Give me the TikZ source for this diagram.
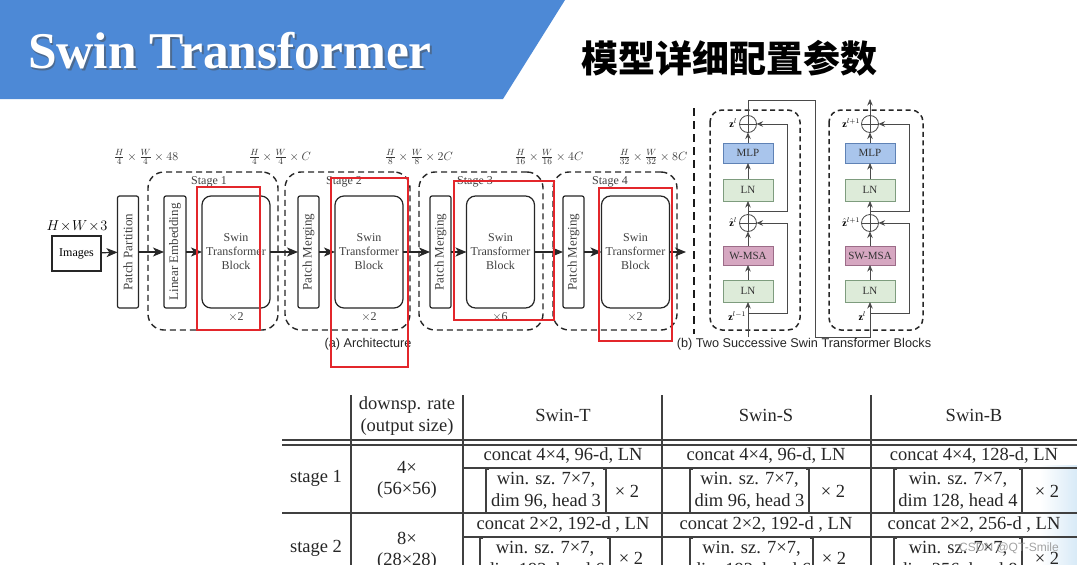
\documentclass[tikz,border=0pt]{standalone}
\usepackage{fontspec}
\setmainfont{Liberation Serif}
\newfontfamily\cjk{Noto Sans CJK SC}
\newfontfamily\arialf{Liberation Sans}
\usetikzlibrary{arrows.meta,calc}
\definecolor{titleblue}{HTML}{4D89D6}
\definecolor{mlpfill}{HTML}{A9C5EC}
\definecolor{mlpdraw}{HTML}{5F82B5}
\definecolor{lnfill}{HTML}{DDEBD9}
\definecolor{lndraw}{HTML}{7E9C7E}
\definecolor{msafill}{HTML}{D6A7C1}
\definecolor{msadraw}{HTML}{9C6C88}
\definecolor{annred}{HTML}{E3262B}
\definecolor{lgray}{HTML}{4A4A4A}
\definecolor{pale}{HTML}{D8EAF7}
\begin{document}
\begin{tikzpicture}[x=1pt,y=-1pt,
  every node/.style={inner sep=0pt,outer sep=0pt},
  archfont/.style={font=\fontsize{12}{14}\selectfont},
  vbox/.style={draw=black!85,line width=1.2pt,rounded corners=2pt,minimum width=21pt,minimum height=112pt},
  stbbox/.style={draw=black!85,line width=1.2pt,rounded corners=9pt,minimum width=68pt,minimum height=112pt,align=center,archfont,text=black!75},
  stagebox/.style={draw=black!85,line width=1.4pt,dash pattern=on 6pt off 4pt,rounded corners=16pt,minimum width=124pt,minimum height=158pt},
  arr/.style={-{Stealth[length=11pt,width=9pt,inset=3pt]},line width=1.2pt,draw=black!85},
  redbox/.style={draw=annred,line width=2pt},
  blk/.style={line width=0.8pt,minimum width=50pt,font=\fontsize{11}{13}\selectfont,text=black!80},
  addc/.style={circle,draw=lgray,line width=0.8pt,minimum size=17pt},
  rarr/.style={-{Stealth[length=6.5pt,width=5.5pt]},line width=0.8pt,draw=lgray},
  rline/.style={line width=0.8pt,draw=lgray},
  bdash/.style={dash pattern=on 5pt off 3.5pt,line width=1.5pt,draw=black!85,rounded corners=12pt},
  zlab/.style={font=\fontsize{10}{12}\selectfont,anchor=east},
  tfont/.style={font=\fontsize{18.5}{22}\selectfont,text=black!85},
  tline/.style={line width=1.1pt,draw=black!75},
  brk/.style={line width=1.1pt,draw=black!75},
  capf/.style={font=\arialf\fontsize{12.7}{14}\selectfont,text=black!85}
]
\useasboundingbox (0,0) rectangle (1077,565);
\clip (0,0) rectangle (1077,565);
\fill[white] (0,0) rectangle (1077,565);
\shade[left color=white,right color=pale] (1040,465) rectangle (1077,565);

% ---------- title ----------
\fill[titleblue] (0,0) -- (565,0) -- (503,99) -- (0,99) -- cycle;
\node[anchor=base west,font=\bfseries\fontsize{51.5}{60}\selectfont,text=black!70,opacity=0.5] (titlesh) at (30,70) {Swin Transformer};
\node[anchor=base west,font=\bfseries\fontsize{51.5}{60}\selectfont,text=white] (title) at (28,68) {Swin Transformer};
\node[font=\cjk\bfseries\fontsize{37}{40}\selectfont] (cntitle) at (729,58) {模型详细配置参数};

% ---------- architecture ----------
\node[draw=black!85,line width=1.2pt,minimum width=49pt,minimum height=35pt,archfont] (img) at (76.5,253.5) {Images};
\node[font=\fontsize{14}{16}\selectfont] (hw3) at (77,226) {$H\!\times\! W\!\times\! 3$};

\node[stagebox] (s1) at (213,251) [minimum width=130pt] {};
\node[stagebox] (s2) at (347.5,251) [minimum width=125pt] {};
\node[stagebox] (s3) at (481,251) {};
\node[stagebox] (s4) at (615,251) {};

\node[vbox] (pp) at (128,252) {};
\node[rotate=90,font=\fontsize{13}{15}\selectfont,text=black!75] (pptx) at (pp.center) {Patch Partition};
\node[vbox,minimum width=22pt] (le) at (175,252) {};
\node[rotate=90,font=\fontsize{13}{15}\selectfont,text=black!75] (letx) at (le.center) {Linear Embedding};
\node[stbbox] (b1) at (236,252) {Swin\\Transformer\\Block};
\node[vbox] (pm2) at (308.5,252) {};
\node[rotate=90,font=\fontsize{13}{15}\selectfont,text=black!75] (pm2tx) at (pm2.center) {Patch Merging};
\node[stbbox] (b2) at (369,252) {Swin\\Transformer\\Block};
\node[vbox] (pm3) at (440.5,252) {};
\node[rotate=90,font=\fontsize{13}{15}\selectfont,text=black!75] (pm3tx) at (pm3.center) {Patch Merging};
\node[stbbox] (b3) at (500.5,252) {Swin\\Transformer\\Block};
\node[vbox] (pm4) at (573.5,252) {};
\node[rotate=90,font=\fontsize{13}{15}\selectfont,text=black!75] (pm4tx) at (pm4.center) {Patch Merging};
\node[stbbox] (b4) at (635.5,252) {Swin\\Transformer\\Block};
\coordinate (out) at (686,252);

\node[archfont,text=black!75] (st1) at (209,182) {Stage 1};
\node[archfont,text=black!75] (st2) at (344,182) {Stage 2};
\node[archfont,text=black!75] (st3) at (475,182) {Stage 3};
\node[archfont,text=black!75] (st4) at (610,182) {Stage 4};
\node[archfont,text=black!75] (x1) at (236,317) {$\times$2};
\node[archfont,text=black!75] (x2) at (369,317) {$\times$2};
\node[archfont,text=black!75] (x3) at (500,317) {$\times$6};
\node[archfont,text=black!75] (x4) at (635,317) {$\times$2};

\node[font=\fontsize{12.5}{14}\selectfont,text=black!80] (d0) at (146,157) {$\frac{H}{4}\times\frac{W}{4}\times 48$};
\node[font=\fontsize{12.5}{14}\selectfont,text=black!80] (d1) at (280,157) {$\frac{H}{4}\times\frac{W}{4}\times C$};
\node[font=\fontsize{12.5}{14}\selectfont,text=black!80] (d2) at (419,157) {$\frac{H}{8}\times\frac{W}{8}\times 2C$};
\node[font=\fontsize{12.5}{14}\selectfont,text=black!80] (d3) at (549,157) {$\frac{H}{16}\times\frac{W}{16}\times 4C$};
\node[font=\fontsize{12.5}{14}\selectfont,text=black!80] (d4) at (653,157) {$\frac{H}{32}\times\frac{W}{32}\times 8C$};

\draw[arr] (img) -- (pp);
\draw[arr] (pp) -- (le);
\draw[arr] (le) -- (b1);
\draw[arr] (b1) -- (pm2);
\draw[arr] (pm2) -- (b2);
\draw[arr] (b2) -- (pm3);
\draw[arr] (pm3) -- (b3);
\draw[arr] (b3) -- (pm4);
\draw[arr] (pm4) -- (b4);
\draw[arr] (b4) -- (out);

\draw[dash pattern=on 8pt off 5pt,line width=2.6pt,draw=black!90] (694,108) -- (694,334);

\node[capf] (capa) at (368,344) {(a) Architecture};
\node[capf] (capb) at (804,344) {(b) Two Successive Swin Transformer Blocks};

% ---------- two successive blocks ----------
\draw[bdash] (710,110) rectangle (800,330);
\draw[bdash] (829,110) rectangle (923,330);

\node[addc] (a1L) at (748,124) {};
\node[blk,draw=mlpdraw,fill=mlpfill,minimum height=20pt] (mlpL) at (748,153) {MLP};
\node[blk,draw=lndraw,fill=lnfill,minimum height=22pt] (ln2L) at (748,190) {LN};
\node[addc] (a2L) at (748,223) {};
\node[blk,draw=msadraw,fill=msafill,minimum height=19pt] (msaL) at (748,255.5) {W-MSA};
\node[blk,draw=lndraw,fill=lnfill,minimum height=22pt] (ln1L) at (748,291) {LN};

\node[addc] (a1R) at (870,124) {};
\node[blk,draw=mlpdraw,fill=mlpfill,minimum height=20pt] (mlpR) at (870,153) {MLP};
\node[blk,draw=lndraw,fill=lnfill,minimum height=22pt] (ln2R) at (870,190) {LN};
\node[addc] (a2R) at (870,223) {};
\node[blk,draw=msadraw,fill=msafill,minimum height=19pt] (msaR) at (870,255.5) {SW-MSA};
\node[blk,draw=lndraw,fill=lnfill,minimum height=22pt] (ln1R) at (870,291) {LN};

\foreach \n in {a1L,a2L,a1R,a2R}{
  \draw[rline] (\n.north) -- (\n.south) (\n.west) -- (\n.east);
}

\coordinate (inL) at (748,337);
\coordinate (rL1) at (748,313);
\coordinate (rL1c) at (787,313);
\coordinate (rL2) at (748,211);
\coordinate (rL2c) at (787,211);
\coordinate (rR1) at (870,313);
\coordinate (rR1c) at (909,313);
\coordinate (rR2) at (870,211);
\coordinate (rR2c) at (909,211);
\coordinate (t1) at (748,100);
\coordinate (t2) at (815,100);
\coordinate (t3) at (815,337);
\coordinate (t4) at (870,337);
\coordinate (outR) at (870,99);

\draw[rarr] (inL) -- (ln1L);
\draw[rarr] (ln1L) -- (msaL);
\draw[rarr] (msaL) -- (a2L);
\draw[rarr] (a2L) -- (ln2L);
\draw[rarr] (ln2L) -- (mlpL);
\draw[rarr] (mlpL) -- (a1L);
\draw[rarr] (rL1) -- (rL1c) |- (a2L);
\draw[rarr] (rL2) -- (rL2c) |- (a1L);

\draw[rarr] (a1L) -- (t1) -- (t2) -- (t3) -- (t4) -- (ln1R);
\draw[rarr] (ln1R) -- (msaR);
\draw[rarr] (msaR) -- (a2R);
\draw[rarr] (a2R) -- (ln2R);
\draw[rarr] (ln2R) -- (mlpR);
\draw[rarr] (mlpR) -- (a1R);
\draw[rarr] (rR1) -- (rR1c) |- (a2R);
\draw[rarr] (rR2) -- (rR2c) |- (a1R);
\draw[rarr] (a1R) -- (outR);

\node[zlab] (zl) at (737,123) {$\mathbf{z}^{l}$};
\node[zlab] (zhl) at (737,222) {$\hat{\mathbf{z}}^{l}$};
\node[zlab] (zlm) at (746,316) {$\mathbf{z}^{l-1}$};
\node[zlab] (zlp) at (860,123) {$\mathbf{z}^{l+1}$};
\node[zlab] (zhlp) at (860,222) {$\hat{\mathbf{z}}^{l+1}$};
\node[zlab] (zl2) at (866,316) {$\mathbf{z}^{l}$};

% ---------- red annotation boxes ----------
\draw[redbox] (197,187) rectangle (260,330);
\draw[redbox] (331,178) rectangle (408,367);
\draw[redbox] (454,181) rectangle (554,320);
\draw[redbox] (599,188) rectangle (672,341);

% ---------- table ----------
\draw[tline] (351,395) -- (351,565);
\draw[tline] (463,395) -- (463,565);
\draw[tline] (662,395) -- (662,565);
\draw[tline] (871,395) -- (871,565);
\draw[tline] (282,440) -- (1077,440);
\draw[tline] (282,445) -- (1077,445);
\draw[tline] (463,468) -- (1077,468);
\draw[tline] (282,513) -- (1077,513);
\draw[tline] (463,537) -- (1077,537);

\node[tfont] (h1) at (407,405) {downsp. rate};
\node[tfont] (h2) at (407,427) {(output size)};
\node[tfont] (hT) at (563,415) {Swin-T};
\node[tfont] (hS) at (766,415) {Swin-S};
\node[tfont] (hB) at (974,415) {Swin-B};

\node[tfont] (r1a) at (316,478) {stage 1};
\node[tfont] (r1b) at (407,467) {4×};
\node[tfont] (r1c) at (407,490) {(56×56)};
\node[tfont] (r2a) at (316,548) {stage 2};
\node[tfont] (r2b) at (407,538) {8×};
\node[tfont] (r2c) at (407,561) {(28×28)};

\node[tfont] (c1T) at (563,455) {concat 4×4, 96-d, LN};
\node[tfont] (c1S) at (766,455) {concat 4×4, 96-d, LN};
\node[tfont] (c1B) at (974,455) {concat 4×4, 128-d, LN};
\node[tfont] (c2T) at (563,524) {concat 2×2, 192-d , LN};
\node[tfont] (c2S) at (766,524) {concat 2×2, 192-d , LN};
\node[tfont] (c2B) at (974,524) {concat 2×2, 256-d , LN};

% stage 1 brackets
\node[tfont,align=center,minimum width=120pt,minimum height=44pt] (w1T) at (546,491) {win. sz. 7×7,\\dim 96, head 3};
\node[tfont,align=center,minimum width=119pt,minimum height=44pt] (w1S) at (749.5,491) {win. sz. 7×7,\\dim 96, head 3};
\node[tfont,align=center,minimum width=128pt,minimum height=44pt] (w1B) at (958,491) {win. sz. 7×7,\\dim 128, head 4};
\foreach \n in {w1T,w1S,w1B}{
  \draw[brk] ([xshift=3pt]\n.north west) -- (\n.north west) -- (\n.south west) -- ([xshift=3pt]\n.south west);
  \draw[brk] ([xshift=-3pt]\n.north east) -- (\n.north east) -- (\n.south east) -- ([xshift=-3pt]\n.south east);
}
\node[tfont] (m1T) at (627,491) {× 2};
\node[tfont] (m1S) at (833,491) {× 2};
\node[tfont] (m1B) at (1047,491) {× 2};

% stage 2 brackets (cut by the frame)
\node[tfont,align=center,minimum width=130pt,minimum height=44pt] (w2T) at (545,560) {win. sz. 7×7,\\dim 192, head 6};
\node[tfont,align=center,minimum width=123pt,minimum height=44pt] (w2S) at (751.5,560) {win. sz. 7×7,\\dim 192, head 6};
\node[tfont,align=center,minimum width=128pt,minimum height=44pt] (w2B) at (958,560) {win. sz. 7×7,\\dim 256, head 8};
\foreach \n in {w2T,w2S,w2B}{
  \draw[brk] ([xshift=3pt]\n.north west) -- (\n.north west) -- (\n.south west) -- ([xshift=3pt]\n.south west);
  \draw[brk] ([xshift=-3pt]\n.north east) -- (\n.north east) -- (\n.south east) -- ([xshift=-3pt]\n.south east);
}
\node[tfont] (m2T) at (631,558) {× 2};
\node[tfont] (m2S) at (834,558) {× 2};
\node[tfont] (m2B) at (1047,558) {× 2};

\node[font=\arialf\fontsize{12}{14}\selectfont,text=black!45,opacity=0.8] (wm) at (1009,548) {CSDN @QT-Smile};
\end{tikzpicture}
\end{document}
